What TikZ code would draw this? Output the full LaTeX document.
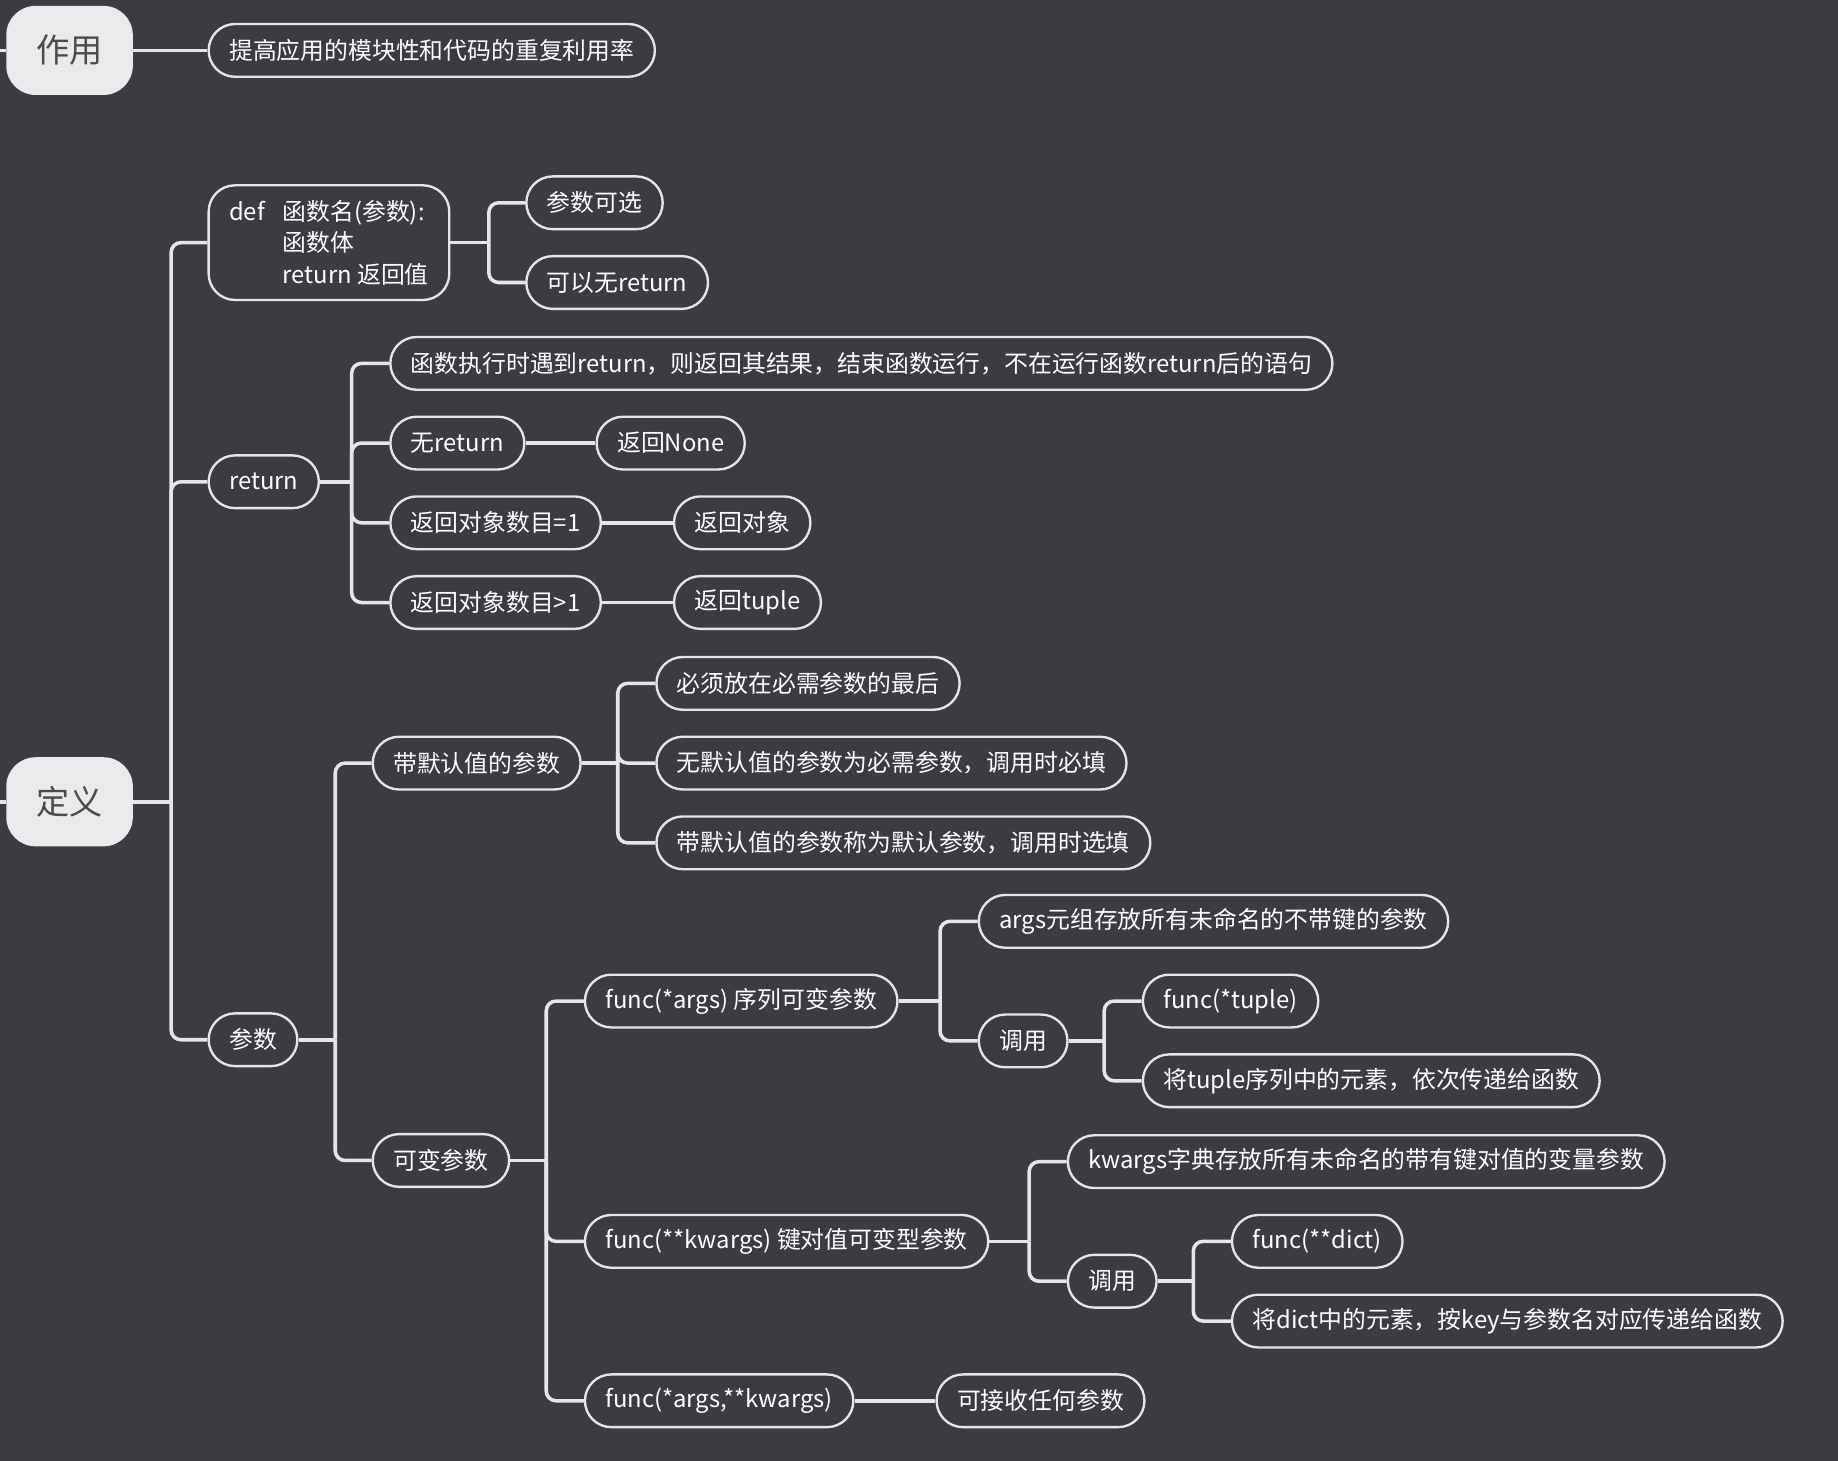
\documentclass[tikz,border=0pt]{standalone}
\usepackage{fontspec}
\setmainfont{Noto Sans CJK SC}
\definecolor{bgcol}{HTML}{393C41}
\definecolor{rootfill}{HTML}{E9EAEB}
\definecolor{roottext}{HTML}{4A4B4D}
\definecolor{linecol}{HTML}{E6E6E6}
\newcommand{\defgap}{def\hspace{0.75em}}

\begin{document}
\begin{tikzpicture}[x=0.6pt,y=-0.6pt,
    topic/.style={fill=rootfill, text=roottext, rounded corners=15pt, minimum width=64.8pt,
        minimum height=45.6pt, font=\fontsize{17}{20}\selectfont, anchor=west},
    leaf/.style={draw=linecol, line width=1.2pt, text=white, rounded corners=13.5pt,
        minimum height=27pt, inner xsep=10.5pt, font=\fontsize{12.2}{16.2}\selectfont, anchor=west},
    link/.style={draw=linecol, line width=1.8pt, rounded corners=5pt}]
                \fill[bgcol] (0,0) rectangle (1568,1246);
                \useasboundingbox (0,0) rectangle (1568,1246);
                % main topics
                \node[topic] (zy) at (5,43) {作用};
                \node[topic] (dy) at (5,684) {定义};
                \coordinate (ezy) at (0,43);
                \coordinate (edy) at (0,684);
                \draw[link] (ezy) -- (zy.west);
                \draw[link] (edy) -- (dy.west);
                \node[leaf] (zyd) at (177,43) {提高应用的模块性和代码的重复利用率};
                \draw[link] (zy.east) -- (zyd.west);
                % def
                \node[leaf, align=left, inner ysep=7.5pt] (def) at (177,207) {\defgap 函数名(参数):\\ \phantom{\defgap}函数体\\ \phantom{\defgap}return 返回值};
                \node[leaf] (ret) at (177,411) {return};
                \node[leaf] (par) at (177,887) {参数};
                \coordinate (jdy) at (146,684);
                \draw[link] (dy.east) -- (jdy);
                \foreach \c in {def,ret,par} \draw[link] (jdy) |- (\c.west);
                \node[leaf] (d1) at (448,173) {参数可选};
                \node[leaf] (d2) at (448,241) {可以无return};
                \coordinate (jdef) at (417,207);
                \draw[link] (def.east) -- (jdef);
                \foreach \c in {d1,d2} \draw[link] (jdef) |- (\c.west);
                % return
                \node[leaf] (r1) at (332,310) {函数执行时遇到return，则返回其结果，结束函数运行，不在运行函数return后的语句};
                \node[leaf] (r2) at (332,378) {无return};
                \node[leaf] (r3) at (332,446) {返回对象数目=1};
                \node[leaf] (r4) at (332,514) {返回对象数目>1};
                \coordinate (jret) at (300,411);
                \draw[link] (ret.east) -- (jret);
                \foreach \c in {r1,r2,r3,r4} \draw[link] (jret) |- (\c.west);
                \node[leaf] (r2a) at (508,378) {返回None};
                \node[leaf] (r3a) at (574,446) {返回对象};
                \node[leaf] (r4a) at (574,514) {返回tuple};
                \draw[link] (r2.east) -- (r2a.west);
                \draw[link] (r3.east) -- (r3a.west);
                \draw[link] (r4.east) -- (r4a.west);
                % parameters
                \node[leaf] (p1) at (317,651) {带默认值的参数};
                \node[leaf] (p2) at (317,990) {可变参数};
                \coordinate (jpar) at (286,887);
                \draw[link] (par.east) -- (jpar);
                \foreach \c in {p1,p2} \draw[link] (jpar) |- (\c.west);
                \node[leaf] (p1a) at (559,583) {必须放在必需参数的最后};
                \node[leaf] (p1b) at (559,651) {无默认值的参数为必需参数，调用时必填};
                \node[leaf] (p1c) at (559,719) {带默认值的参数称为默认参数，调用时选填};
                \coordinate (jp1) at (527,651);
                \draw[link] (p1.east) -- (jp1);
                \foreach \c in {p1a,p1b,p1c} \draw[link] (jp1) |- (\c.west);
                \node[leaf] (v1) at (498,854) {func(*args) 序列可变参数};
                \node[leaf] (v2) at (498,1059) {func(**kwargs) 键对值可变型参数};
                \node[leaf] (v3) at (498,1195) {func(*args,**kwargs)};
                \coordinate (jp2) at (466,990);
                \draw[link] (p2.east) -- (jp2);
                \foreach \c in {v1,v2,v3} \draw[link] (jp2) |- (\c.west);
                % *args
                \node[leaf] (v1a) at (834,786) {args元组存放所有未命名的不带键的参数};
                \node[leaf] (v1b) at (834,888) {调用};
                \coordinate (jv1) at (802,854);
                \draw[link] (v1.east) -- (jv1);
                \foreach \c in {v1a,v1b} \draw[link] (jv1) |- (\c.west);
                \node[leaf] (v1b1) at (974,854) {func(*tuple)};
                \node[leaf] (v1b2) at (974,922) {将tuple序列中的元素，依次传递给函数};
                \coordinate (jv1b) at (942,888);
                \draw[link] (v1b.east) -- (jv1b);
                \foreach \c in {v1b1,v1b2} \draw[link] (jv1b) |- (\c.west);
                % **kwargs
                \node[leaf] (v2a) at (910,991) {kwargs字典存放所有未命名的带有键对值的变量参数};
                \node[leaf] (v2b) at (910,1093) {调用};
                \coordinate (jv2) at (878,1059);
                \draw[link] (v2.east) -- (jv2);
                \foreach \c in {v2a,v2b} \draw[link] (jv2) |- (\c.west);
                \node[leaf] (v2b1) at (1050,1059) {func(**dict)};
                \node[leaf] (v2b2) at (1050,1127) {将dict中的元素，按key与参数名对应传递给函数};
                \coordinate (jv2b) at (1018,1093);
                \draw[link] (v2b.east) -- (jv2b);
                \foreach \c in {v2b1,v2b2} \draw[link] (jv2b) |- (\c.west);
                % *args,**kwargs
                \node[leaf] (v3a) at (798,1195) {可接收任何参数};
                \draw[link] (v3.east) -- (v3a.west);
            \end{tikzpicture}
\end{document}
